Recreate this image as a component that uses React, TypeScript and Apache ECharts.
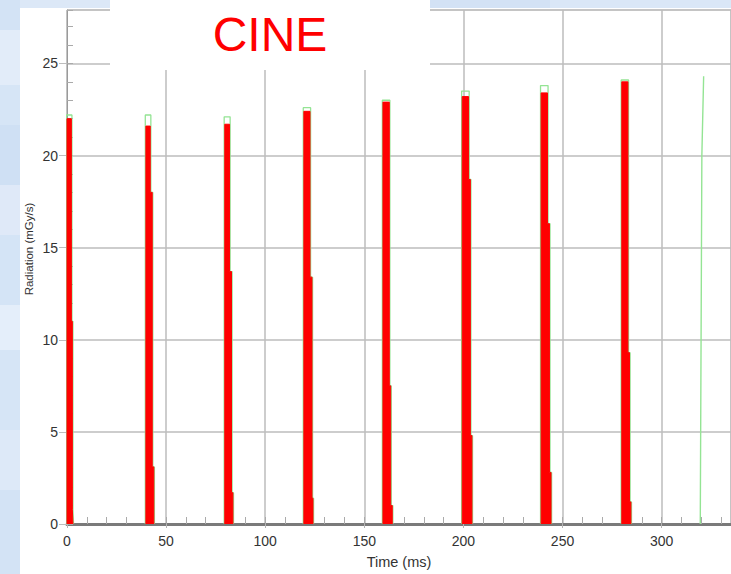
import React, { useEffect, useRef } from "react";
import * as echarts from "echarts";

// Pulse data (time in ms, radiation in mGy/s)
const pulseStart = [0, 39.8, 79.6, 119.5, 159.4, 199.4, 239.2, 279.9];
const redPeak = [22.0, 21.6, 21.7, 22.4, 22.9, 23.2, 23.4, 24.0];
const topEnd = [2.2, 42.0, 82.0, 122.6, 162.6, 202.6, 242.4, 283.0];
const midLevel = [11.0, 18.0, 13.7, 13.4, 7.5, 18.7, 16.3, 9.3];
const midEnd = [2.7, 43.0, 83.0, 123.6, 163.3, 203.5, 243.4, 283.8];
const lowLevel = [0.8, 3.1, 1.7, 1.4, 1.0, 4.8, 2.8, 1.2];
const baseEnd = [3.0, 43.8, 83.7, 124.1, 164.1, 204.3, 244.2, 284.5];
const greenPeak = [22.2, 22.2, 22.1, 22.6, 23.0, 23.5, 23.8, 24.1];
const lastPulseTime = [319.5, 320.3, 321.2];
const lastPulseValue = [0, 20, 24.3];

const xTicks = { min: 0, max: 335, major: 50, minor: 10 };
const yTicks = { min: 0, max: 27.9, major: 5, minor: 1 };

const FONT = "'Liberation Sans', Arial, sans-serif";

function pulseShape(i: number, dx: number, peak: number) {
  const s = pulseStart[i] - dx;
  return [
    [s, 0],
    [s, peak],
    [topEnd[i] + dx, peak],
    [topEnd[i] + dx, midLevel[i]],
    [midEnd[i] + dx, midLevel[i]],
    [midEnd[i] + dx, lowLevel[i]],
    [baseEnd[i] + dx, lowLevel[i]],
    [baseEnd[i] + dx, 0],
  ];
}

export default function App() {
  const ref = useRef<HTMLDivElement>(null);
  useEffect(() => {
    document.body.style.margin = "0";
    const chart = echarts.init(ref.current!, undefined, { renderer: "svg" });
    const greenSeries: any[] = pulseStart.map((_, i) => ({
      type: "line",
      data: pulseShape(i, 0.3, greenPeak[i]),
      symbol: "none",
      silent: true,
      z: 2,
      lineStyle: { color: "#94e494", width: 1.3 },
    }));
    greenSeries.push({
      type: "line",
      data: lastPulseTime.map((t, k) => [t, lastPulseValue[k]]),
      symbol: "none",
      silent: true,
      z: 2,
      lineStyle: { color: "#94e494", width: 1.4 },
    });
    const redSeries: any[] = pulseStart.map((_, i) => ({
      type: "line",
      data: pulseShape(i, 0, redPeak[i]),
      symbol: "none",
      silent: true,
      z: 3,
      lineStyle: { color: "#ff0000", width: 1 },
      areaStyle: { color: "#ff0000", opacity: 1 },
    }));

    const bgBlocks = [
      [0, 0, 20, 30, "#d3e3f5"],
      [0, 30, 20, 55, "#e2ecf9"],
      [0, 85, 20, 40, "#d6e5f6"],
      [0, 125, 20, 60, "#cfe0f4"],
      [0, 185, 20, 50, "#dfe9f8"],
      [0, 235, 20, 70, "#d4e4f6"],
      [0, 305, 20, 45, "#e4eefa"],
      [0, 350, 20, 80, "#d6e5f6"],
      [0, 430, 20, 60, "#dde9f8"],
      [0, 490, 20, 84, "#d3e3f5"],
      [20, 0, 90, 8, "#dce8f7"],
      [430, 0, 120, 8, "#d3e2f5"],
      [550, 0, 181, 8, "#dae7f7"],
    ];

    chart.setOption({
      animation: false,
      backgroundColor: "#d9e7f7",
      graphic: [
        ...bgBlocks.map((b) => ({
          type: "rect",
          z: -100,
          silent: true,
          shape: { x: b[0], y: b[1], width: b[2], height: b[3] },
          style: { fill: b[4] as string },
        })),
        {
          type: "rect",
          z: -90,
          silent: true,
          shape: { x: 20, y: 8, width: 711, height: 566 },
          style: { fill: "#ffffff" },
        },
        {
          type: "rect",
          z: 100,
          silent: true,
          shape: { x: 110, y: 0, width: 320, height: 70 },
          style: { fill: "#ffffff" },
        },
        {
          type: "text",
          z: 101,
          x: 270,
          y: 34,
          style: {
            text: "CINE",
            fill: "#ff0000",
            font: `48px ${FONT}`,
            align: "center",
            verticalAlign: "middle",
          },
        },
        {
          type: "text",
          z: 101,
          x: 29,
          y: 249,
          rotation: Math.PI / 2,
          style: {
            text: "Radiation (mGy/s)",
            fill: "#333333",
            font: `11.5px ${FONT}`,
            align: "center",
            verticalAlign: "middle",
          },
        },
      ],
      grid: {
        left: 67,
        right: 0,
        top: 10,
        bottom: 49,
        containLabel: false,
        show: true,
        borderColor: "#b5b5b5",
        borderWidth: 1,
        backgroundColor: "transparent",
      },
      xAxis: [
        {
          type: "value",
          min: xTicks.min,
          max: xTicks.max,
          interval: xTicks.major,
          name: "Time (ms)",
          nameLocation: "middle",
          nameGap: 30,
          nameTextStyle: { fontSize: 14.5, color: "#333", fontFamily: FONT },
          axisLine: { show: true, onZero: false, lineStyle: { color: "#7a7a7a", width: 3 } },
          axisTick: { show: true, length: 4, lineStyle: { color: "#b5b5b5" } },
          axisLabel: {
            showMaxLabel: false,
            margin: 10,
            fontSize: 14,
            color: "#333",
            fontFamily: FONT,
          },
          splitLine: { show: true, lineStyle: { color: "#bdbdbd", width: 1.5 } },
        },
        {
          type: "value",
          min: xTicks.min,
          max: xTicks.max,
          interval: xTicks.minor,
          position: "bottom",
          axisLine: { show: false, onZero: false },
          axisTick: { show: true, inside: true, length: 7, lineStyle: { color: "#aaaaaa" } },
          axisLabel: { show: false },
          splitLine: { show: false },
        },
      ],
      yAxis: [
        {
          type: "value",
          min: yTicks.min,
          max: yTicks.max,
          interval: yTicks.major,
          axisLine: { show: true, lineStyle: { color: "#9a9a9a", width: 1 } },
          axisTick: { show: true, length: 8, lineStyle: { color: "#bdbdbd" } },
          axisLabel: {
            showMaxLabel: false,
            margin: 9,
            fontSize: 14,
            color: "#333",
            fontFamily: FONT,
          },
          splitLine: { show: true, lineStyle: { color: "#bdbdbd", width: 1.5 } },
        },
        {
          type: "value",
          min: yTicks.min,
          max: yTicks.max,
          interval: yTicks.minor,
          position: "left",
          axisLine: { show: false },
          axisTick: { show: true, inside: true, length: 6, lineStyle: { color: "#aaaaaa" } },
          axisLabel: { show: false },
          splitLine: { show: false },
        },
      ],
      series: [...greenSeries, ...redSeries],
    });
    return () => chart.dispose();
  }, []);
  return <div ref={ref} style={{ width: 731, height: 574 }} />;
}
